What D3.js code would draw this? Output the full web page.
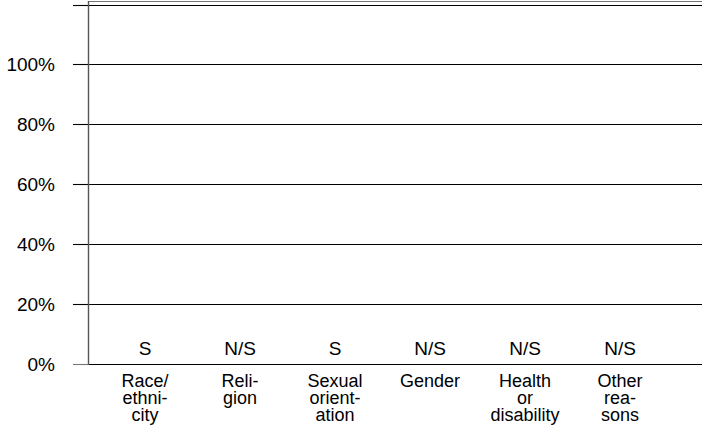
<!DOCTYPE html>
<html><head><meta charset="utf-8">
<script src="https://cdn.jsdelivr.net/npm/d3@7"></script>
<style>body{margin:0;background:#fff}svg{display:block}text{font-family:Arial,"Liberation Sans",sans-serif;fill:#000}</style>
</head><body><svg id="c" width="702" height="437"></svg>
<script>
const categories = [["Race/","ethni-","city"],["Reli-","gion"],["Sexual","orient-","ation"],["Gender"],["Health","or","disability"],["Other","rea-","sons"]];
const significance = ["S","N/S","S","N/S","N/S","N/S"];
const yTicks = [0,20,40,60,80,100,120];
const yTickLabels = ["0%","20%","40%","60%","80%","100%",""];

const svg = d3.select("#c");
const fs = 19;
const y = d3.scaleLinear().domain([0,120]).range([364,4.5]);
const x = d3.scalePoint().domain(d3.range(categories.length)).range([145,620]);
const axisX = 88.5, tickX = 73, right = 702;

// gridlines
svg.selectAll("line.grid").data(yTicks).join("line")
  .attr("x1", axisX).attr("x2", right)
  .attr("y1", d=>Math.round(y(d))+0.5).attr("y2", d=>Math.round(y(d))+0.5)
  .attr("stroke", "#000").attr("stroke-width",1.1);
// ticks
svg.selectAll("line.tick").data(yTicks).join("line")
  .attr("x1", tickX).attr("x2", axisX)
  .attr("y1", d=>Math.round(y(d))+0.5).attr("y2", d=>Math.round(y(d))+0.5)
  .attr("stroke", d=> d===0 ? "#777" : "#000").attr("stroke-width",1.1);
// top border
svg.append("line").attr("x1",axisX).attr("x2",right).attr("y1",1.5).attr("y2",1.5).attr("stroke","#777").attr("stroke-width",1.2);
// y axis line
svg.append("line").attr("x1",axisX).attr("x2",axisX).attr("y1",1).attr("y2",Math.round(y(0))+0.5).attr("stroke","#555").attr("stroke-width",1.4);

// y labels
svg.selectAll("text.yl").data(yTicks).join("text")
  .attr("x",55).attr("y",d=>y(d)+7).attr("text-anchor","end").attr("font-size",fs)
  .text((d,i)=>yTickLabels[i]);

// significance labels
svg.selectAll("text.sig").data(significance).join("text")
  .attr("x",(d,i)=>x(i)).attr("y",355).attr("text-anchor","middle").attr("font-size",fs)
  .text(d=>d);

// category labels
const g = svg.selectAll("text.cat").data(categories).join("text")
  .attr("text-anchor","middle").attr("font-size",18);
g.selectAll("tspan").data((d,i)=>d.map(t=>({t,i}))).join("tspan")
  .attr("x",d=>x(d.i)).attr("y",(d,j)=>387+j*17).text(d=>d.t);
</script></body></html>
